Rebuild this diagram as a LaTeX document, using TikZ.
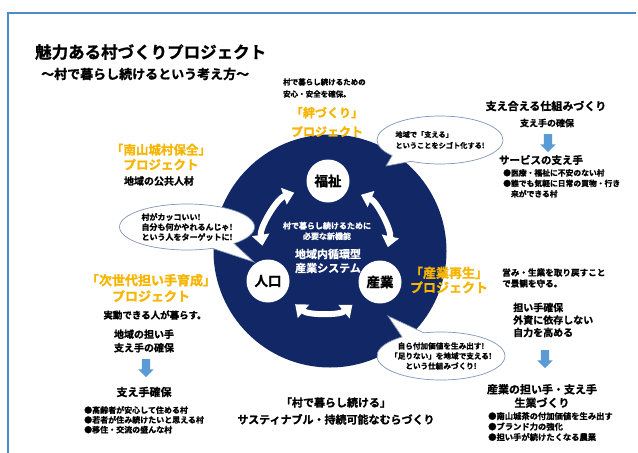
\documentclass[tikz,border=0pt]{standalone}
\usepackage{fontspec}
\setmainfont{Noto Sans CJK JP}[BoldFont={* Bold},BoldFeatures={FakeBold=1.2}]
\usetikzlibrary{shapes.callouts,shapes.arrows,arrows.meta}
\definecolor{navy}{RGB}{17,39,102}
\definecolor{projy}{RGB}{247,181,0}
\definecolor{arrblue}{RGB}{91,155,213}
\definecolor{frameblue}{RGB}{79,139,204}
\definecolor{bubline}{RGB}{130,150,185}
\newcommand\fsz[2]{\bfseries\fontsize{#1}{#2}\selectfont}
\tikzset{
  lbl/.style={inner sep=0pt, align=center},
  proj/.style={lbl, text=projy},
  wtxt/.style={lbl, text=white},
  bub/.style={ellipse callout, draw=bubline, fill=white, line width=0.7pt, inner ysep=0pt, align=left, callout pointer arc=22},
  hub/.style={circle, fill=white, minimum size=43pt, inner sep=0pt, font=\fsz{13.5}{14}},
  dnarrow/.style={single arrow, fill=arrblue, rotate=-90, minimum height=18pt, inner xsep=0pt, inner ysep=4pt, single arrow head extend=3.5pt, single arrow head indent=0pt},
  looparrow/.style={draw=white, line width=6pt, {Triangle[width=17pt,length=11pt]}-{Triangle[width=17pt,length=11pt]}, shorten >=14pt, shorten <=14pt}
}
\begin{document}
\begin{tikzpicture}[x=1pt,y=-1pt]
\useasboundingbox (0,0) rectangle (638,453);
\fill[white] (0,0) rectangle (638,453);
\draw[frameblue, line width=2.2pt] (8,453) -- (8,13) -- (636,13);

% central disc
\node[circle, fill=navy, minimum size=233pt, inner sep=0pt] (ring) at (330,251) {};
\node[hub] (fuku) at (328,181) {福祉};
\node[hub] (jinko) at (268,281) {人口};
\node[hub] (sangyo) at (380,282) {産業};
\draw[looparrow] (fuku) to[bend right=40] (jinko);
\draw[looparrow] (fuku) to[bend left=40] (sangyo);
\draw[looparrow] (jinko) to[bend right=40] (sangyo);
\node[wtxt, font=\fsz{8}{10.5}] (need) at (327,231) {村で暮らし続けるために\\必要な新機能};
\node[wtxt, font=\fsz{11}{14}] (sys) at (328,261) {地域内循環型\\産業システム};

% bubbles
\node[bub, minimum width=126pt, minimum height=48pt, inner xsep=-3pt, callout absolute pointer={(386,166)}, font=\fsz{7.2}{11}] (b1) at (440,140) {地域で「支える」\\ということをシゴト化する!};
\node[bub, minimum width=135pt, minimum height=46pt, inner xsep=-3pt, callout absolute pointer={(254,262)}, font=\fsz{8}{10}] (b2) at (187,227) {村がカッコいい!\\自分も何かやれるんじゃ!\\という人をターゲットに!};
\node[bub, align=center, minimum width=128pt, minimum height=48pt, inner xsep=-8pt, callout absolute pointer={(388,316)}, font=\fsz{7.6}{10}] (b3) at (441,356) {自ら付加価値を生み出す!\\「足りない」を地域で支える!\\という仕組みづくり!};

% titles
\node[lbl, anchor=west, font=\fsz{16.5}{18}] (title) at (35,52) {魅力ある村づくりプロジェクト};
\node[lbl, anchor=west, font=\fsz{13}{14}] (sub) at (41,74) {～村で暮らし続けるという考え方～};

% top
\node[lbl, anchor=west, align=left, font=\fsz{7.5}{12}] (anzen) at (283,88) {村で暮らし続けるための\\安心・安全を確保。};
\node[proj, font=\fsz{12}{19}] (kizuna) at (327,122) {「絆づくり」\\プロジェクト};

% top right
\node[lbl, font=\fsz{11}{12}] (sasae) at (546,106) {支え合える仕組みづくり};
\node[lbl, font=\fsz{9}{10}] (kakuho1) at (547,123) {支え手の確保};
\node[dnarrow] (a1) at (548,141) {};
\node[lbl, font=\fsz{10.5}{12}] (service) at (541,160) {サービスの支え手};
\node[lbl, anchor=north west, align=left, font=\fsz{7.8}{10.5}] (list1) at (503,169) {●医療・福祉に不安のない村\\●誰でも気軽に日常の買物・行き\\\hspace{7.8pt}来ができる村};

% left
\node[proj, font=\fsz{12.5}{15}] (nanzan) at (161,157) {「南山城村保全」\\プロジェクト};
\node[lbl, font=\fsz{10}{12}] (koukyou) at (159,181) {地域の公共人材};
\node[proj, font=\fsz{13}{16}] (jisedai) at (151,288) {「次世代担い手育成」\\プロジェクト};
\node[lbl, font=\fsz{9.5}{11}] (jitsudo) at (155,315) {実動できる人が暮らす。};
\node[lbl, font=\fsz{10}{13.5}] (ninaite) at (144,341) {地域の担い手\\支え手の確保};
\node[dnarrow] (a2) at (146,366) {};
\node[lbl, font=\fsz{11}{12}] (kakuho2) at (144,392) {支え手確保};
\node[lbl, anchor=north west, align=left, font=\fsz{8}{9.8}] (list2) at (84,406) {●高齢者が安心して住める村\\●若者が住み続けたいと思える村\\●移住・交流の盛んな村};

% right
\node[proj, font=\fsz{13}{14.5}] (saisei) at (449,280) {「産業再生」\\プロジェクト};
\node[lbl, anchor=west, align=left, font=\fsz{8.6}{11}] (itonami) at (502,278) {営み・生業を取り戻すこと\\で景観を守る。};
\node[lbl, anchor=west, align=left, font=\fsz{10}{12.5}] (jiriki) at (513,320) {担い手確保\\外資に依存しない\\自力を高める};
\node[dnarrow] (a3) at (545,357) {};
\node[lbl, font=\fsz{11}{13.5}] (seigyo) at (542,396) {産業の担い手・支え手\\生業づくり};
\node[lbl, anchor=north west, align=left, font=\fsz{8.3}{10.5}] (list3) at (488,412) {●南山城茶の付加価値を生み出す\\●ブランド力の強化\\●担い手が続けたくなる農業};

% bottom
\node[lbl, font=\fsz{11}{17}] (bottom) at (336,411) {「村で暮らし続ける」\\サスティナブル・持続可能なむらづくり};
\end{tikzpicture}
\end{document}
